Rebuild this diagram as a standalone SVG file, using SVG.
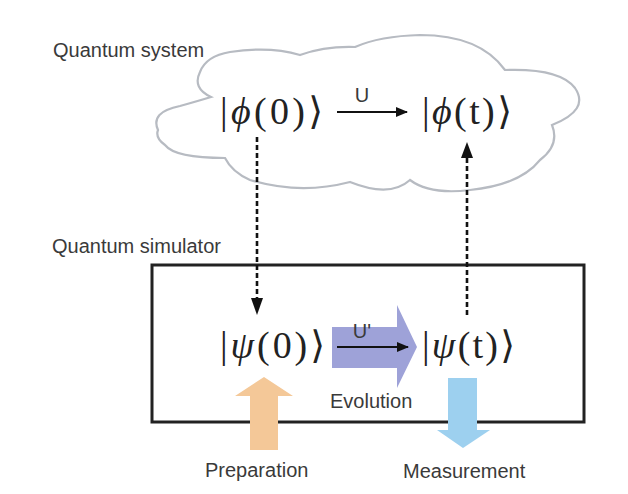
<svg xmlns="http://www.w3.org/2000/svg" width="628" height="494" viewBox="0 0 628 494">
<style>
.lbl{font-family:"Liberation Sans",Arial,sans-serif;font-size:20px;fill:#3a3a3a}
.math{font-family:"Liberation Serif","DejaVu Serif",serif;font-size:38px;fill:#222}
.it{font-style:italic}
.dash{stroke:#111;stroke-width:2.6;stroke-dasharray:5 3;fill:none}
.thin{stroke:#111;stroke-width:2;fill:none}
</style>
<defs>
<marker id="ah" viewBox="0 0 12 10" refX="11" refY="5" markerWidth="12" markerHeight="10" markerUnits="userSpaceOnUse" orient="auto">
<path d="M0,0 L12,5 L0,10 Z" fill="#111"/>
</marker>
</defs>
<rect width="628" height="494" fill="#fff"/>
<g id="system">
<path d="M158,130 Q150,112 180,106 Q198,101 211,97 Q192,88 200,72 Q206,56 230,52 Q270,46 300,55 Q325,46 355,47 Q380,36 420,35 Q480,35 505,70 Q560,68 575,88 Q590,110 552,125 Q560,145 540,160 Q520,185 470,190 Q430,195 410,180 Q390,198 350,182 Q300,195 250,180 Q232,172 225,158 Q175,158 165,145 Q155,138 158,130 Z" fill="#fff" stroke="#b7bbc2" stroke-width="2.2"/>
<text class="lbl" x="53" y="57">Quantum system</text>
</g>
<g id="simulator">
<rect x="152" y="265" width="432" height="157" fill="none" stroke="#222" stroke-width="3"/>
<text class="lbl" x="52" y="253">Quantum simulator</text>
</g>
<g id="evolution">
<polygon points="332,327 397,327 397,305 417,347 397,388 397,368 332,368" fill="#9ea2d8"/>
<text class="lbl" x="330" y="408">Evolution</text>
</g>
<g id="phi0">
<text class="math" x="220" y="124" textLength="103" lengthAdjust="spacing">|<tspan class="it">ϕ</tspan>(0)⟩</text>
</g>
<g id="phit">
<text class="math" x="422" y="124" textLength="90" lengthAdjust="spacing">|<tspan class="it">ϕ</tspan>(t)⟩</text>
</g>
<g id="psi0">
<text class="math" x="220" y="358" textLength="105" lengthAdjust="spacing">|<tspan class="it">ψ</tspan>(0)⟩</text>
</g>
<g id="psit">
<text class="math" x="422" y="358" textLength="93" lengthAdjust="spacing">|<tspan class="it">ψ</tspan>(t)⟩</text>
</g>
<g id="preparation">
<polygon points="250,450 278,450 278,396 293,396 264,377 235,396 250,396" fill="#f4c898"/>
<text class="lbl" x="205" y="477">Preparation</text>
</g>
<g id="measurement">
<polygon points="448,378 477,378 477,430 490,430 463,448 437,430 448,430" fill="#9dd0ef"/>
<text class="lbl" x="403" y="478">Measurement</text>
</g>
<g id="connectors">
<line class="thin" x1="337" y1="112" x2="407" y2="112" marker-end="url(#ah)"/>
<text class="lbl" x="362" y="102" text-anchor="middle">U</text>
<line class="thin" x1="337" y1="347" x2="408" y2="347" marker-end="url(#ah)"/>
<text class="lbl" x="362" y="338" text-anchor="middle">U'</text>
<line class="dash" x1="257" y1="137" x2="257" y2="300"/>
<polygon points="251,298 263,298 257,315" fill="#111"/>
<line class="dash" x1="467" y1="315" x2="467" y2="157"/>
<polygon points="461,158 473,158 467,142" fill="#111"/>
</g>
</svg>
